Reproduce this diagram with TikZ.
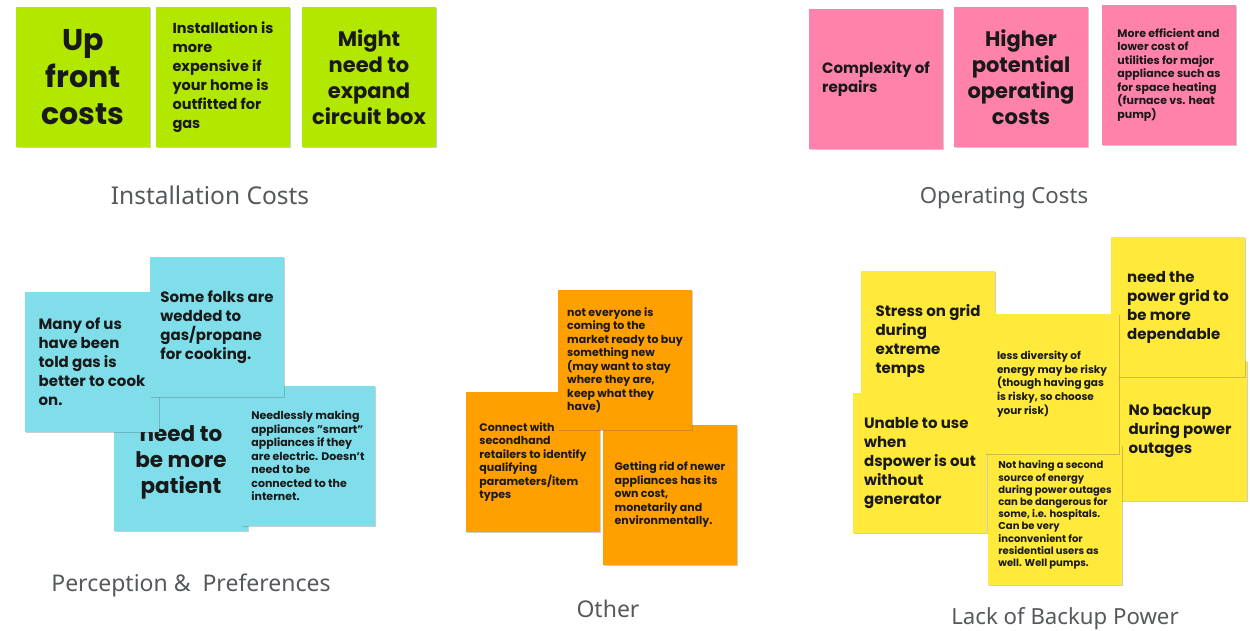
\documentclass[tikz,border=0pt]{standalone}
\usepackage{fontspec}
\setmainfont{Poppins}
\newfontfamily\labelfont{Noto Sans}
\usetikzlibrary{shadows}

\definecolor{stickygreen}{HTML}{B2E700}
\definecolor{stickypink}{HTML}{FF82AA}
\definecolor{stickycyan}{HTML}{80DEEA}
\definecolor{stickyorange}{HTML}{FFA000}
\definecolor{stickyyellow}{HTML}{FFEA3C}
\definecolor{labelgray}{HTML}{55585C}

\newcommand\fsz[2]{\fontsize{#1}{#2}\selectfont}

\tikzset{
  note/.style={minimum width=134pt, minimum height=140pt, inner sep=0pt,
    text=black!90,
    drop shadow={shadow xshift=0.6pt, shadow yshift=-1.3pt, opacity=0.28, fill=black!70}},
  greennote/.style={note, fill=stickygreen},
  pinknote/.style={note, fill=stickypink},
  cyannote/.style={note, fill=stickycyan},
  orangenote/.style={note, fill=stickyorange},
  yellownote/.style={note, fill=stickyyellow},
  huge text/.style={align=center, font=\bfseries\fsz{30}{37}},
  large text/.style={align=center, font=\bfseries\fsz{21}{26}},
  medium text/.style={align=left, font=\bfseries\fsz{15}{19}},
  small text/.style={align=left, font=\bfseries\fsz{11}{13.5}},
  tiny text/.style={align=left, font=\bfseries\fsz{10}{12.2}},
  grouplabel/.style={font=\labelfont\fsz{23}{27}, text=labelgray, inner sep=0pt, anchor=base}
}

\begin{document}
\begin{tikzpicture}[x=1pt, y=-1pt]
\fill[white] (0,0) rectangle (1250,631);
\useasboundingbox (0,0) rectangle (1250,631);

% Installation costs
\node[greennote, huge text] (upfront) at (83,77) {Up\\front\\costs};
\node[greennote, align=left, font=\bfseries\fsz{14.5}{19}] (gasinstall) at (223,77)
  {Installation is\\more\\expensive if\\your home is\\outfitted for\\gas};
\node[greennote, large text] (circuit) at (369,77) {Might\\need to\\expand\\circuit box};
\node[grouplabel, font=\labelfont\fsz{24.5}{28}] (installlabel) at (210,205) {Installation Costs};

% Operating costs
\node[pinknote, medium text] (repairs) at (876,79) {Complexity of\\repairs};
\node[pinknote, large text] (higher) at (1021,77) {Higher\\potential\\operating\\costs};
\node[pinknote, small text] (efficient) at (1169,75)
  {More efficient and\\lower cost of\\utilities for major\\appliance such as\\for space heating\\(furnace vs. heat\\pump)};
\node[grouplabel, font=\labelfont\fsz{22.2}{26}] (operatinglabel) at (1004,204) {Operating Costs};

% Perception & preferences
\node[cyannote] (patient) at (181,461) {};
\node[font=\bfseries\fsz{21.5}{26}, align=center, text=black!90] (patienttext) at (181,462) {need to\\be more\\patient};
\node[cyannote, medium text] (toldgas) at (92,362) {Many of us\\have been\\told gas is\\better to cook\\on.};
\node[cyannote, small text] (smart) at (308,456)
  {Needlessly making\\appliances "smart"\\appliances if they\\are electric. Doesn't\\need to be\\connected to the\\internet.};
\node[cyannote, medium text] (wedded) at (217,327) {Some folks are\\wedded to\\gas/propane\\for cooking.};
\node[grouplabel] (perceptionlabel) at (191,591) {Perception \&\ \ Preferences};

% Other
\node[orangenote, small text] (secondhand) at (533,462)
  {Connect with\\secondhand\\retailers to identify\\qualifying\\parameters/item\\types};
\node[orangenote, small text] (getrid) at (670,495)
  {Getting rid of newer\\appliances has its\\own cost,\\monetarily and\\environmentally.};
\node[orangenote, small text] (noteveryone) at (625,360)
  {not everyone is\\coming to the\\market ready to buy\\something new\\(may want to stay\\where they are,\\keep what they\\have)};
\node[grouplabel] (otherlabel) at (608,617) {Other};

% Lack of backup power
\node[yellownote, medium text] (stress) at (928,341) {Stress on grid\\during\\extreme\\temps};
\node[yellownote, medium text] (unable) at (920,463) {Unable to use\\when\\dspower is out\\without\\generator};
\node[yellownote, medium text] (nobackup) at (1180,431) {No backup\\during power\\outages};
\node[yellownote, medium text] (dependable) at (1178,307) {need the\\power grid to\\be more\\dependable};
\node[yellownote, tiny text] (secondsource) at (1055,515)
  {Not having a second\\source of energy\\during power outages\\can be dangerous for\\some, i.e. hospitals.\\Can be very\\inconvenient for\\residential users as\\well. Well pumps.};
\node[yellownote, align=left, font=\bfseries\fsz{10.5}{13.6}] (diversity) at (1052,384)
  {less diversity of\\energy may be risky\\(though having gas\\is risky, so choose\\your risk)};
\node[grouplabel, font=\labelfont\fsz{22.2}{26}] (backuplabel) at (1065,624) {Lack of Backup Power};
\end{tikzpicture}
\end{document}
